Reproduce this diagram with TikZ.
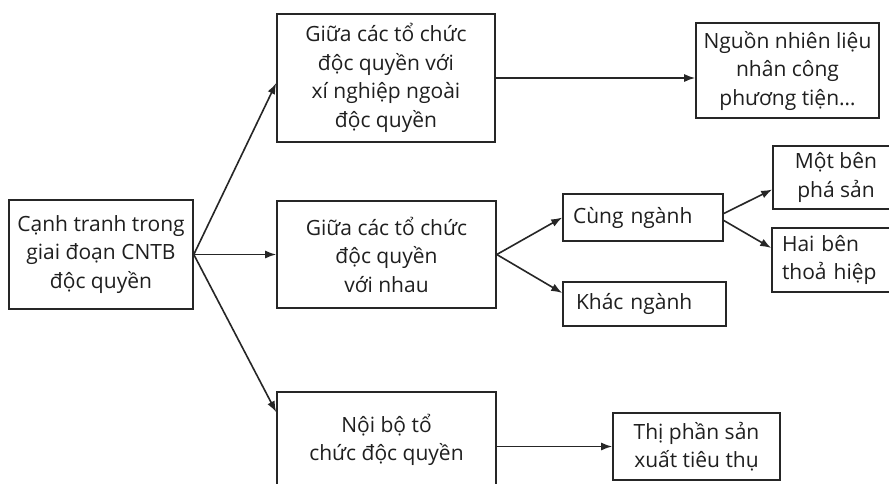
\documentclass[tikz,border=0pt]{standalone}
\usepackage{fontspec}
\setmainfont{Open Sans}
\usetikzlibrary{arrows.meta,calc}
\begin{document}
\begin{tikzpicture}[x=1pt,y=-1pt,
  box/.style={draw=black!85,line width=1.6pt,inner sep=0pt,align=center,
    font=\fontsize{21}{28.5}\selectfont,text=black!88},
  lbox/.style={box,align=left},
  conn/.style={draw=black!85,line width=1.6pt,-{Latex[length=11pt,width=8pt]}}]
\useasboundingbox (0,0) rectangle (889,483);
\clip (0,0) rectangle (889,483);
\fill[white] (0,0) rectangle (889,483);
\node[box,minimum width=184pt,minimum height=109pt] (L) at (101,254.5)
  {Cạnh tranh trong\\giai đoạn CNTB\\độc quyền};
\node[box,minimum width=218pt,minimum height=128pt] (T) at (386,78)
  {Giữa các tổ chức\\độc quyền với\\xí nghiệp ngoài\\độc quyền};
\node[box,minimum width=219pt,minimum height=107pt] (M) at (386.5,254.5)
  {Giữa các tổ chức\\độc quyền\\với nhau};
\node[box,minimum width=219pt,minimum height=96pt] (B) at (386.5,440)
  {Nội bộ tổ\\chức độc quyền};
\node[box,minimum width=183pt,minimum height=95pt] (N) at (787.5,70.5)
  {Nguồn nhiên liệu\\nhân công\\phương tiện…};
\node[box,minimum width=126pt,minimum height=63pt] (Mot) at (836,177.5)
  {Một bên\\phá sản};
\node[lbox,text width=108pt,inner xsep=10pt,minimum width=128pt,minimum height=64pt] (Hai) at (836,260)
  {Hai bên\\thoả hiệp};
\node[lbox,text width=140pt,inner xsep=10pt,minimum height=47pt] (Cung) at (643,217.5)
  {Cùng ngành};
\node[lbox,text width=137pt,inner xsep=13pt,minimum height=44pt] (Khac) at (644.5,304)
  {Khác ngành};
\node[box,minimum width=167pt,minimum height=67pt] (Thi) at (696.5,446.5)
  {Thị phần sản\\xuất tiêu thụ};
\coordinate (Ls) at (L.east);
\draw[conn] (Ls) -- ([yshift=-5pt]T.west);
\draw[conn] (Ls) -- (M.west);
\draw[conn] (Ls) -- ([yshift=-21pt]B.north west);
\draw[conn] (T.east) -- (T.east -| N.west);
\draw[conn] (M.east) -- (Cung.west);
\draw[conn] (M.east) -- ([yshift=11pt]Khac.west);
\draw[conn] ([yshift=4pt]Cung.east) -- ([yshift=-12pt]Mot.west);
\draw[conn] ([yshift=-3pt]Cung.east) -- ([yshift=12pt]Hai.west);
\draw[conn] (Thi.west -| B.east) -- (Thi.west);
\end{tikzpicture}
\end{document}
